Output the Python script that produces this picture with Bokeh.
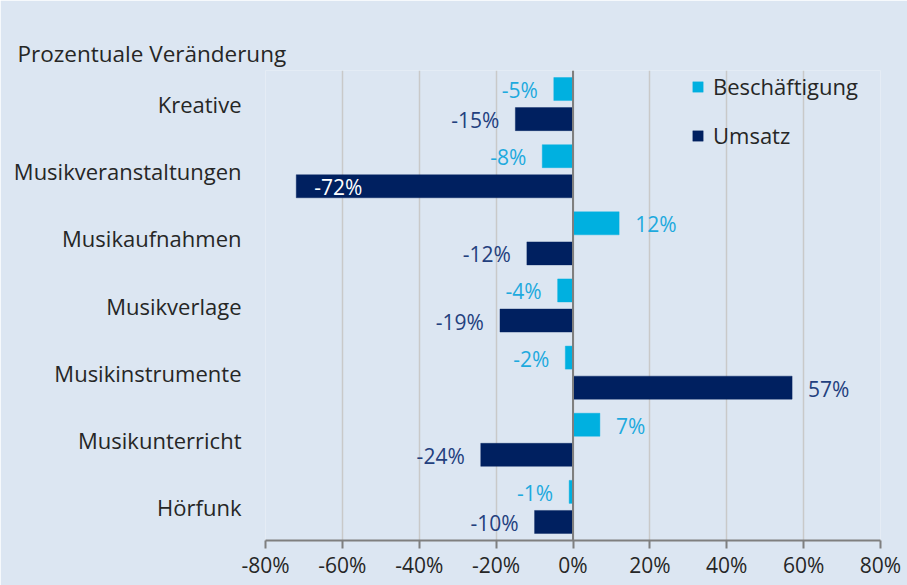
from bokeh.plotting import figure
from bokeh.models import (ColumnDataSource, FactorRange, Range1d, Legend, LegendItem,
                          FixedTicker, CustomJSTickFormatter, Span, Title)
from bokeh.transform import dodge
from bokeh.core.properties import value
from bokeh.embed import file_html
from bokeh.resources import INLINE

categories = ["Kreative", "Musikveranstaltungen", "Musikaufnahmen", "Musikverlage",
              "Musikinstrumente", "Musikunterricht", "Hörfunk"]
beschaeftigung = [-5, -8, 12, -4, -2, 7, -1]
umsatz = [-15, -72, -12, -19, 57, -24, -10]
x_ticks = [-80, -60, -40, -20, 0, 20, 40, 60, 80]
title_text = "Prozentuale Veränderung"
series_names = ["Beschäftigung", "Umsatz"]

FONT = "Open Sans"
BG = "#dce6f2"
C_LIGHT = "#00b0e0"
C_DARK = "#002060"
L_LIGHT = "#1eaade"
L_DARK = "#23407e"
TXT = "#262626"

W, H = 907, 585
p = figure(width=W, height=H, output_backend="svg", toolbar_location=None,
           y_range=FactorRange(*list(reversed(categories))),
           x_range=Range1d(-80, 80),
           min_border_left=265, min_border_right=27, min_border_top=70, min_border_bottom=45)
p.background_fill_color = BG
p.border_fill_color = BG
p.outline_line_color = None

p.add_layout(Title(text=title_text, align="left", offset=-248, standoff=0,
                   vertical_align="top", text_line_height=2.4,
                   text_font=FONT, text_font_size="22.5px", text_color=TXT,
                   text_font_style="normal"), "above")

src = ColumnDataSource(dict(cat=categories, b=beschaeftigung, u=umsatz))

rb = p.hbar(y=dodge("cat", 0.224, range=p.y_range), right="b", left=0, height=0.343,
            source=src, fill_color=C_LIGHT, line_color=C_LIGHT, line_alpha=0.4)
ru = p.hbar(y=dodge("cat", -0.224, range=p.y_range), right="u", left=0, height=0.343,
            source=src, fill_color=C_DARK, line_color=C_DARK, line_alpha=0.4)

# data labels
def add_labels(vals, off, color):
    neg_out = [(c, v) for c, v in zip(categories, vals) if -60 <= v < 0]
    pos_out = [(c, v) for c, v in zip(categories, vals) if v >= 0]
    inside = [(c, v) for c, v in zip(categories, vals) if v < -60]
    for grp, align, xo, col in [(neg_out, "right", -16, color),
                                (pos_out, "left", 16, color),
                                (inside, "left", 18, "white")]:
        if not grp:
            continue
        s = ColumnDataSource(dict(c=[g[0] for g in grp], v=[g[1] for g in grp],
                                  t=[f"{g[1]}%" for g in grp]))
        p.text(x="v", y=dodge("c", off, range=p.y_range), text="t", source=s,
               text_align=align, text_baseline="middle", x_offset=xo, y_offset=1,
               text_color=col, text_font=value(FONT), text_font_size="21px")

add_labels(beschaeftigung, 0.224, L_LIGHT)
add_labels(umsatz, -0.224, L_DARK)

# zero line
p.add_layout(Span(location=0, dimension="height", line_color="#7f7f7f", line_width=2))

# axes
p.xaxis.ticker = FixedTicker(ticks=x_ticks)
p.xaxis.formatter = CustomJSTickFormatter(code="return tick + '%';")
p.xaxis.axis_line_color = "#7f7f7f"
p.xaxis.axis_line_width = 2
p.xaxis.major_tick_line_color = "#7f7f7f"
p.xaxis.major_tick_line_width = 2
p.xaxis.major_tick_out = 8
p.xaxis.major_tick_in = 0
p.xaxis.minor_tick_line_color = None
p.xaxis.major_label_text_font = FONT
p.xaxis.major_label_text_font_size = "21px"
p.xaxis.major_label_text_color = TXT
p.xaxis.major_label_standoff = 2

p.yaxis.axis_line_color = None
p.yaxis.major_tick_line_color = None
p.yaxis.major_tick_out = 0
p.yaxis.minor_tick_line_color = None
p.yaxis.major_label_text_font = FONT
p.yaxis.major_label_text_font_size = "22px"
p.yaxis.major_label_text_color = TXT
p.yaxis.major_label_standoff = 24

p.xgrid.grid_line_color = "#c9c9c9"
p.xgrid.grid_line_width = 1.5
p.ygrid.grid_line_color = None

legend = Legend(items=[LegendItem(label=series_names[0], renderers=[rb]),
                       LegendItem(label=series_names[1], renderers=[ru])],
                location=(426, 390))
legend.background_fill_alpha = 0
legend.border_line_alpha = 0
legend.label_text_font = FONT
legend.label_text_font_size = "22px"
legend.label_text_color = TXT
legend.glyph_width = 13
legend.glyph_height = 13
legend.label_height = 30
legend.spacing = 19
legend.label_standoff = 9
legend.padding = 0
legend.margin = 0
p.add_layout(legend)

open("out.html", "w").write(file_html(p, INLINE))
